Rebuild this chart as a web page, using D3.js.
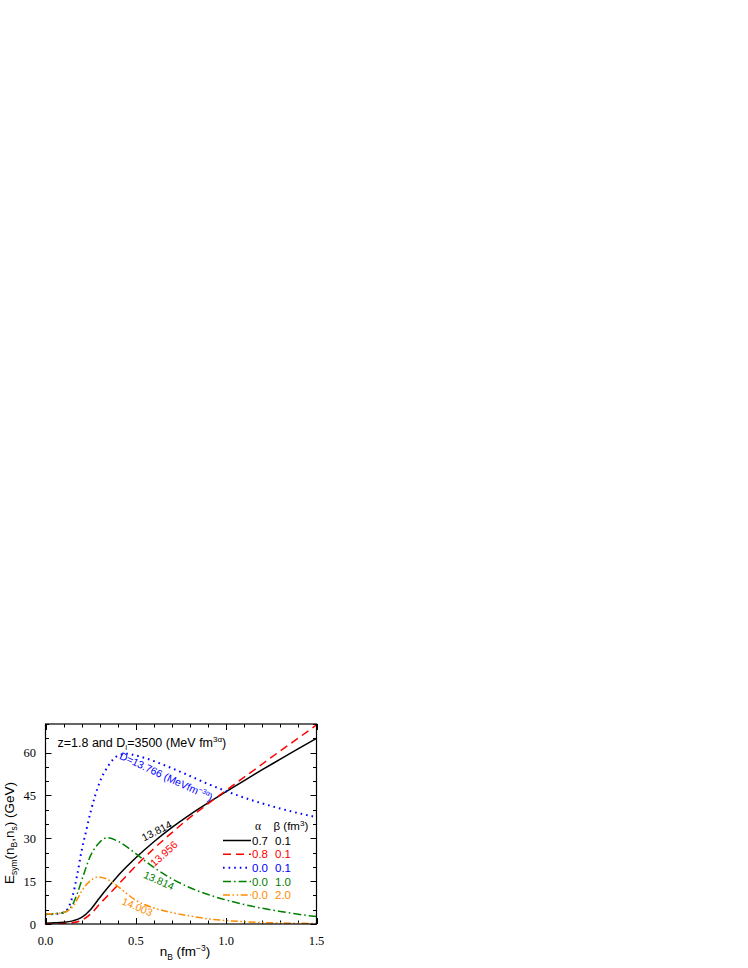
<!DOCTYPE html>
<html>
<head>
<meta charset="utf-8">
<script src="https://cdn.jsdelivr.net/npm/d3@7"></script>
<style>
  body { margin: 0; background: #fff; }
  svg { display: block; }
</style>
</head>
<body>
<svg id="chart" width="748" height="968"></svg>
<script>
// values (n_B in fm^-3, E_sym in GeV)
const blackN = [0, 0.05, 0.1, 0.15, 0.2, 0.25, 0.3, 0.35, 0.4, 0.45, 0.5, 0.6, 0.7, 0.8, 0.9, 1.0, 1.1, 1.2, 1.3, 1.4, 1.5];
const blackE = [0.3, 0.4, 0.6, 1.1, 2.3, 5.1, 9.2, 13.1, 16.8, 20.1, 23.2, 28.8, 33.8, 38.3, 42.4, 46.3, 50.2, 54, 57.7, 61.4, 65];

const redN = [0, 0.05, 0.1, 0.15, 0.2, 0.25, 0.3, 0.35, 0.4, 0.45, 0.5, 0.6, 0.7, 0.8, 0.9, 1.0, 1.1, 1.2, 1.3, 1.4, 1.5];
const redE = [0, 0.05, 0.15, 0.4, 1.3, 3.5, 7, 10.3, 13.6, 17, 20.3, 26.4, 32, 37.3, 42.1, 46.8, 51.4, 56, 60.6, 65.1, 69.7];

const blueN = [0, 0.05, 0.1, 0.125, 0.15, 0.175, 0.2, 0.225, 0.25, 0.3, 0.35, 0.4, 0.45, 0.5, 0.6, 0.7, 0.8, 0.9, 1.0, 1.1, 1.2, 1.3, 1.4, 1.5];
const blueE = [3.4, 3.5, 4, 5.5, 9.8, 17, 25.7, 32.6, 39.3, 49.6, 55.6, 58.9, 59.6, 59, 57, 54.5, 51.8, 49, 46.5, 44.2, 42.2, 40.4, 38.8, 37.4];

const greenN = [0, 0.05, 0.1, 0.125, 0.15, 0.175, 0.2, 0.25, 0.3, 0.34, 0.4, 0.45, 0.5, 0.6, 0.7, 0.8, 0.9, 1.0, 1.1, 1.2, 1.3, 1.4, 1.5];
const greenE = [3.5, 3.6, 4, 4.8, 6.8, 10.5, 15.2, 24, 28.6, 30.2, 29, 27, 24.6, 19.8, 15.8, 12.7, 10.3, 8.4, 6.8, 5.5, 4.4, 3.4, 2.6];

const orangeN = [0, 0.05, 0.1, 0.125, 0.15, 0.175, 0.2, 0.25, 0.29, 0.35, 0.4, 0.45, 0.5, 0.6, 0.7, 0.8, 0.9, 1.0, 1.1, 1.2, 1.3, 1.4, 1.5];
const orangeE = [3.5, 3.6, 4, 4.7, 6, 8.5, 11.5, 15.2, 16.5, 15.4, 13.2, 10.6, 8.3, 5.6, 4, 2.8, 1.8, 1.2, 0.8, 0.5, 0.35, 0.25, 0.2];

const alphas = ["0.7", "0.8", "0.0", "0.0", "0.0"];
const betas = ["0.1", "0.1", "0.1", "1.0", "2.0"];
const curveLabels = ["13.814", "13.956", "", "13.814", "14.003"];

const xTicks = [0.0, 0.5, 1.0, 1.5];
const yTicks = [0, 15, 30, 45, 60];

const series = [
  { n: blackN, e: blackE, color: "#000000", dash: null },
  { n: redN, e: redE, color: "#ff0000", dash: "8,5" },
  { n: blueN, e: blueE, color: "#0000ff", dash: "1.6,4" },
  { n: greenN, e: greenE, color: "#008000", dash: "8,3,1.6,3" },
  { n: orangeN, e: orangeE, color: "#ff8c00", dash: "7,2.5,1.6,2.5,1.6,2.5" }
];

const svg = d3.select("#chart");
const margin = { left: 45.5, top: 724, right: 316.5, bottom: 924 };

const x = d3.scaleLinear().domain([0, 1.5]).range([margin.left, margin.right]);
const y = d3.scaleLinear().domain([0, 70]).range([margin.bottom, margin.top]);

// clip for the curves
svg.append("defs").append("clipPath").attr("id", "plotclip")
  .append("rect")
  .attr("x", margin.left).attr("y", margin.top)
  .attr("width", margin.right - margin.left)
  .attr("height", margin.bottom - margin.top);

// ticks, inward on all sides
const gAxes = svg.append("g").attr("stroke", "#000").attr("stroke-width", 1);
const xMinor = d3.range(0, 1.501, 0.1);
const yMinor = d3.range(0, 70.01, 5);

function isMajorX(v) { return Math.abs(v * 2 - Math.round(v * 2)) < 1e-6; }
function isMajorY(v) { return Math.abs(v / 15 - Math.round(v / 15)) < 1e-6; }

xMinor.forEach(function(v) {
  const len = isMajorX(v) ? 6 : 3.5;
  const px = Math.round(x(v)) + 0.5;
  gAxes.append("line").attr("x1", px).attr("x2", px)
    .attr("y1", margin.bottom).attr("y2", margin.bottom - len);
  gAxes.append("line").attr("x1", px).attr("x2", px)
    .attr("y1", margin.top).attr("y2", margin.top + len);
});
yMinor.forEach(function(v) {
  const len = isMajorY(v) ? 6 : 3.5;
  const py = Math.round(y(v)) + 0.5;
  gAxes.append("line").attr("y1", py).attr("y2", py)
    .attr("x1", margin.left).attr("x2", margin.left + len);
  gAxes.append("line").attr("y1", py).attr("y2", py)
    .attr("x1", margin.right).attr("x2", margin.right - len);
});

// tick labels
svg.append("g").selectAll("text").data(xTicks).enter().append("text")
  .attr("x", function(d) { return x(d); })
  .attr("y", 944.5)
  .attr("text-anchor", "middle")
  .attr("font-family", "Liberation Serif, Times New Roman, serif")
  .attr("font-size", 12.5)
  .text(function(d) { return d.toFixed(1); });

svg.append("g").selectAll("text").data(yTicks).enter().append("text")
  .attr("x", 36)
  .attr("y", function(d) { return y(d) + 4.5; })
  .attr("text-anchor", "end")
  .attr("font-family", "Liberation Serif, Times New Roman, serif")
  .attr("font-size", 12.5)
  .text(function(d) { return d; });

// curves
const line = d3.line()
  .x(function(d) { return x(d[0]); })
  .y(function(d) { return y(d[1]); })
  .curve(d3.curveMonotoneX);

const gLines = svg.append("g").attr("clip-path", "url(#plotclip)").attr("fill", "none");
series.forEach(function(s, i) {
  const pts = s.n.map(function(v, j) { return [v, s.e[j]]; });
  gLines.append("path")
    .datum(pts)
    .attr("d", line)
    .attr("stroke", s.color)
    .attr("stroke-width", i === 2 ? 2 : 1.5)
    .attr("stroke-dasharray", s.dash);
});

// frame
svg.append("rect")
  .attr("x", margin.left).attr("y", margin.top)
  .attr("width", margin.right - margin.left)
  .attr("height", margin.bottom - margin.top)
  .attr("fill", "none").attr("stroke", "#000").attr("stroke-width", 1.2);

const sans = "Liberation Sans, Arial, sans-serif";

// labels sitting along the curves
const labelSpots = [
  { s: 0, n: 0.615, e: 32.6, rot: -27 },
  { s: 1, n: 0.655, e: 24.6, rot: -42 },
  { s: 3, n: 0.628, e: 15.2, rot: 24 },
  { s: 4, n: 0.508, e: 6.0, rot: 23 }
];
labelSpots.forEach(function(l) {
  svg.append("text")
    .attr("transform", "translate(" + x(l.n) + "," + y(l.e) + ") rotate(" + l.rot + ")")
    .attr("text-anchor", "middle")
    .attr("dy", "0.35em")
    .attr("font-family", sans)
    .attr("font-size", 10.5)
    .attr("fill", series[l.s].color)
    .text(curveLabels[l.s]);
});

const blueLab = svg.append("text")
  .attr("transform", "translate(" + x(0.668) + "," + y(51.6) + ") rotate(25)")
  .attr("text-anchor", "middle")
  .attr("dy", "0.35em")
  .attr("font-family", sans)
  .attr("font-size", 10.5)
  .attr("fill", series[2].color);
blueLab.append("tspan").text("D=13.766 (MeVfm");
blueLab.append("tspan").attr("dy", -4).attr("font-size", 7).text("\u22123\u03b1");
blueLab.append("tspan").attr("dy", 4).text(")");

// title inside the frame
const title = svg.append("text")
  .attr("x", 57.5).attr("y", 747)
  .attr("font-family", sans)
  .attr("font-size", 12.5);
title.append("tspan").text("z=1.8 and D");
title.append("tspan").attr("dy", 3).attr("font-size", 7).text("I");
title.append("tspan").attr("dy", -3).text("=3500 (MeV fm");
title.append("tspan").attr("dy", -5).attr("font-size", 8).text("3\u03b1");
title.append("tspan").attr("dy", 5).text(")");

// legend
const gLeg = svg.append("g").attr("font-family", sans).attr("font-size", 11.5);
gLeg.append("text").attr("x", 258).attr("y", 830).attr("text-anchor", "middle")
  .attr("font-family", "Liberation Serif, serif").text("\u03b1");
const bHead = gLeg.append("text").attr("x", 273.5).attr("y", 830);
bHead.append("tspan").text("\u03b2 (fm");
bHead.append("tspan").attr("dy", -4).attr("font-size", 8).text("3");
bHead.append("tspan").attr("dy", 4).text(")");

const legY = d3.scalePoint().domain(d3.range(series.length)).range([840.5, 895]);
series.forEach(function(s, i) {
  const yy = legY(i);
  gLeg.append("line")
    .attr("x1", 223).attr("x2", 251)
    .attr("y1", yy).attr("y2", yy)
    .attr("stroke", s.color)
    .attr("stroke-width", i === 2 ? 2 : 1.5)
    .attr("stroke-dasharray", s.dash);
  gLeg.append("text").attr("x", 252).attr("y", yy + 4.2).attr("fill", s.color).text(alphas[i]);
  gLeg.append("text").attr("x", 275).attr("y", yy + 4.2).attr("fill", s.color).text(betas[i]);
});

// axis titles
const xl = svg.append("text")
  .attr("x", 185).attr("y", 956)
  .attr("text-anchor", "middle")
  .attr("font-family", sans)
  .attr("font-size", 13.5);
xl.append("tspan").text("n");
xl.append("tspan").attr("dy", 3.5).attr("font-size", 8.5).text("B");
xl.append("tspan").attr("dy", -3.5).text(" (fm");
xl.append("tspan").attr("dy", -5.5).attr("font-size", 8.5).text("\u22123");
xl.append("tspan").attr("dy", 5.5).text(")");

const yl = svg.append("text")
  .attr("transform", "translate(13.5," + 833 + ") rotate(-90)")
  .attr("text-anchor", "middle")
  .attr("font-family", sans)
  .attr("font-size", 13.5);
yl.append("tspan").text("E");
yl.append("tspan").attr("dy", 3.5).attr("font-size", 8.5).text("sym");
yl.append("tspan").attr("dy", -3.5).text("(n");
yl.append("tspan").attr("dy", 3.5).attr("font-size", 8.5).text("B");
yl.append("tspan").attr("dy", -3.5).text(",n");
yl.append("tspan").attr("dy", 3.5).attr("font-size", 8.5).text("s");
yl.append("tspan").attr("dy", -3.5).text(") (GeV)");
</script>
</body>
</html>
